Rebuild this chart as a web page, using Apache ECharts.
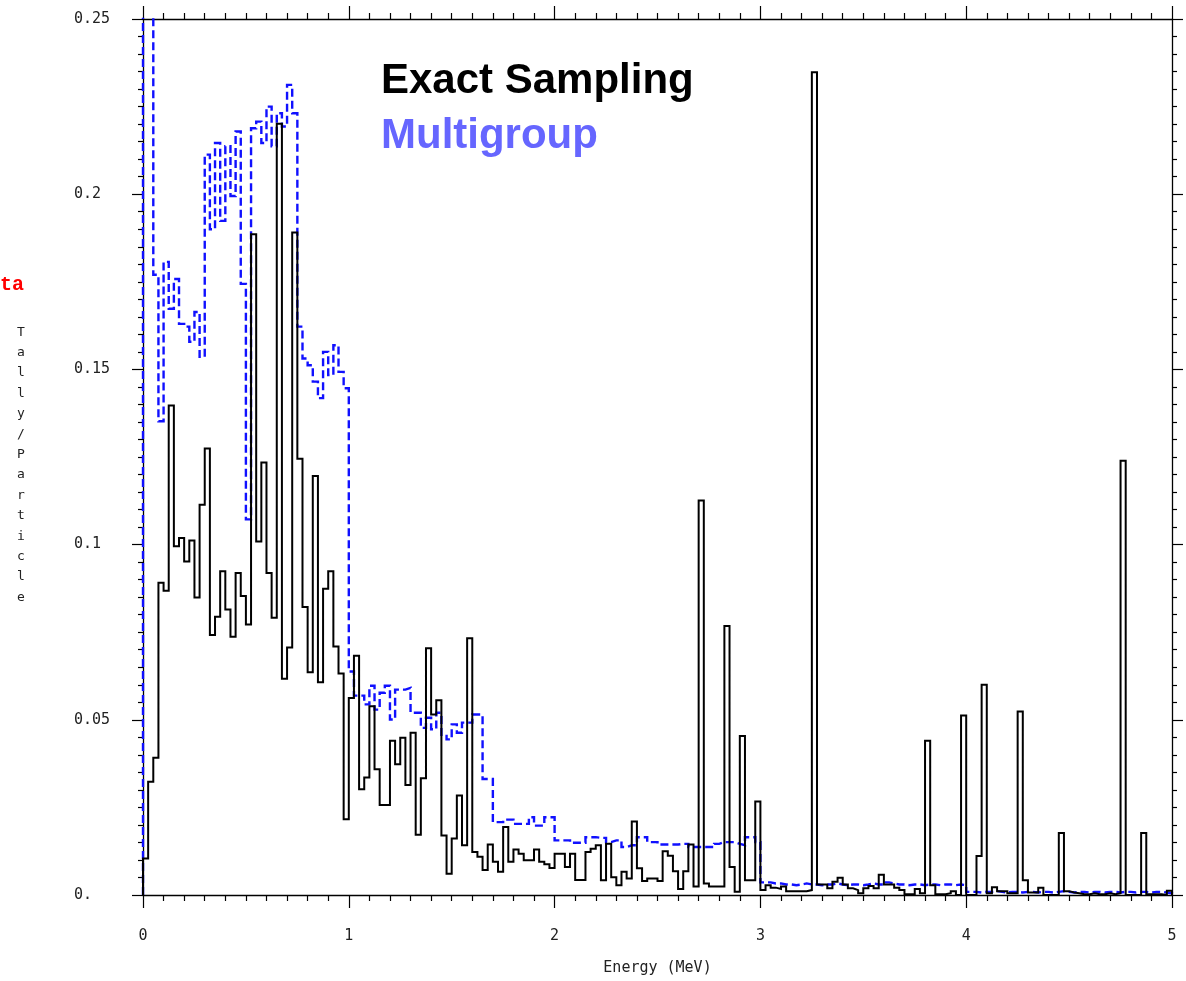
<!DOCTYPE html>
<html>
<head>
<meta charset="utf-8">
<script src="https://cdn.jsdelivr.net/npm/echarts@6/dist/echarts.min.js"></script>
<style>
html,body{margin:0;padding:0;background:#fff;}
#chart{width:1186px;height:981px;}
</style>
</head>
<body>
<div id="chart"></div>
<script>
// Energy bins: 200 bins of 0.025 MeV from 0 to 5 MeV
const binWidth = 0.025;
const xTickLabels = ['0', '1', '2', '3', '4', '5'];
const yTickLabels = ['0.', '0.05', '0.1', '0.15', '0.2', '0.25'];
const seriesNames = ['Exact Sampling', 'Multigroup'];

// Exact sampling tally per bin
const exactSampling = [
  0.0104,0.0323,0.0392,0.0891,0.0868,0.1397,0.0995,0.1019,0.0952,0.1012,
  0.0849,0.1114,0.1274,0.0742,0.0794,0.0924,0.0815,0.0737,0.0919,0.0853,
  0.0772,0.1886,0.1009,0.1234,0.0919,0.0791,0.2201,0.0617,0.0706,0.1891,
  0.1245,0.0822,0.0636,0.1196,0.0607,0.0874,0.0924,0.0709,0.0632,0.0216,
  0.0562,0.0683,0.0302,0.0335,0.0539,0.0359,0.0257,0.0257,0.0440,0.0373,
  0.0449,0.0314,0.0463,0.0172,0.0333,0.0704,0.0515,0.0556,0.0170,0.0061,
  0.0161,0.0284,0.0142,0.0733,0.0123,0.0109,0.0071,0.0144,0.0095,0.0066,
  0.0194,0.0095,0.0130,0.0118,0.0099,0.0099,0.0130,0.0095,0.0088,0.0077,
  0.0118,0.0118,0.0080,0.0118,0.0043,0.0043,0.0123,0.0132,0.0142,0.0042,
  0.0146,0.0051,0.0028,0.0066,0.0047,0.0210,0.0076,0.0040,0.0047,0.0047,
  0.0040,0.0125,0.0112,0.0068,0.0017,0.0068,0.0144,0.0024,0.1126,0.0033,
  0.0024,0.0024,0.0024,0.0768,0.0080,0.0009,0.0454,0.0042,0.0042,0.0267,
  0.0014,0.0028,0.0021,0.0017,0.0024,0.0011,0.0011,0.0011,0.0011,0.0014,
  0.2348,0.0030,0.0030,0.0019,0.0038,0.0049,0.0030,0.0019,0.0014,0.0005,
  0.0019,0.0026,0.0019,0.0058,0.0030,0.0030,0.0021,0.0014,0.0002,0.0002,
  0.0017,0.0005,0.0440,0.0028,0.0002,0.0002,0.0005,0.0011,0.0000,0.0512,
  0.0000,0.0000,0.0111,0.0600,0.0005,0.0022,0.0011,0.0011,0.0005,0.0005,
  0.0524,0.0042,0.0007,0.0007,0.0021,0.0000,0.0000,0.0000,0.0177,0.0011,
  0.0007,0.0005,0.0002,0.0002,0.0005,0.0002,0.0002,0.0005,0.0002,0.0005,
  0.1239,0.0000,0.0000,0.0000,0.0177,0.0002,0.0002,0.0002,0.0000,0.0012
];

// Multigroup tally per bin (first bins exceed the plotted range)
const multigroup = [
  0.3000,0.3000,0.1770,0.1352,0.1807,0.1673,0.1758,0.1630,0.1622,0.1579,
  0.1664,0.1536,0.2113,0.1900,0.2146,0.1924,0.2137,0.1995,0.2179,0.1744,
  0.1072,0.2188,0.2207,0.2146,0.2250,0.2137,0.2231,0.2193,0.2312,0.2231,
  0.1622,0.1531,0.1512,0.1465,0.1418,0.1550,0.1484,0.1569,0.1493,0.1446,
  0.0638,0.0569,0.0569,0.0544,0.0597,0.0529,0.0577,0.0597,0.0501,0.0586,
  0.0586,0.0591,0.0520,0.0520,0.0477,0.0506,0.0473,0.0520,0.0454,0.0444,
  0.0487,0.0463,0.0492,0.0492,0.0515,0.0515,0.0331,0.0331,0.0208,0.0208,
  0.0215,0.0215,0.0203,0.0203,0.0203,0.0222,0.0198,0.0198,0.0222,0.0222,
  0.0156,0.0156,0.0156,0.0149,0.0149,0.0149,0.0165,0.0165,0.0163,0.0163,
  0.0151,0.0156,0.0156,0.0137,0.0142,0.0142,0.0165,0.0165,0.0151,0.0151,
  0.0144,0.0144,0.0144,0.0144,0.0146,0.0146,0.0137,0.0137,0.0137,0.0137,
  0.0137,0.0146,0.0151,0.0151,0.0151,0.0146,0.0142,0.0165,0.0165,0.0151,
  0.0036,0.0036,0.0033,0.0033,0.0030,0.0030,0.0028,0.0030,0.0033,0.0030,
  0.0030,0.0028,0.0030,0.0030,0.0033,0.0030,0.0028,0.0030,0.0030,0.0028,
  0.0030,0.0033,0.0030,0.0030,0.0036,0.0033,0.0030,0.0030,0.0028,0.0030,
  0.0030,0.0028,0.0030,0.0030,0.0028,0.0030,0.0030,0.0028,0.0030,0.0028,
  0.0009,0.0009,0.0007,0.0009,0.0009,0.0011,0.0009,0.0007,0.0009,0.0009,
  0.0007,0.0009,0.0009,0.0007,0.0009,0.0009,0.0007,0.0009,0.0011,0.0009,
  0.0007,0.0009,0.0009,0.0007,0.0009,0.0009,0.0007,0.0009,0.0009,0.0007,
  0.0009,0.0009,0.0007,0.0009,0.0009,0.0007,0.0009,0.0009,0.0007,0.0005
];

function histPoints(vals) {
  const pts = [[0, 0]];
  for (let i = 0; i < vals.length; i++) pts.push([i * binWidth, vals[i]]);
  const xEnd = vals.length * binWidth;
  pts.push([xEnd, vals[vals.length - 1]]);
  pts.push([xEnd, 0]);
  return pts;
}

const chart = echarts.init(document.getElementById('chart'), null, {renderer: 'canvas'});
const monoFont = '"DejaVu Sans Mono", "Liberation Mono", monospace';

const xAxisBase = {
  type: 'value', min: 0, max: 5, interval: 1,
  axisLine: {show: true, onZero: false, lineStyle: {color: '#000', width: 1.3}},
  axisTick: {show: true, length: 13, lineStyle: {color: '#000', width: 1.2}},
  minorTick: {show: true, splitNumber: 10, length: 6, lineStyle: {color: '#000', width: 1.2}},
  splitLine: {show: false}, minorSplitLine: {show: false}
};
const yAxisBase = {
  type: 'value', min: 0, max: 0.25, interval: 0.05,
  axisLine: {show: true, onZero: false, lineStyle: {color: '#000', width: 1.3}},
  axisTick: {show: true, length: 11, lineStyle: {color: '#000', width: 1.2}},
  minorTick: {show: true, splitNumber: 10, length: 5, lineStyle: {color: '#000', width: 1.2}},
  splitLine: {show: false}, minorSplitLine: {show: false}
};

const yAxisLetters = 'Tally/Particle'.split('').join('\n');

chart.setOption({
  backgroundColor: '#fff',
  animation: false,
  grid: {left: 143, right: 14, top: 19, bottom: 81, containLabel: false},
  xAxis: [
    Object.assign({}, xAxisBase, {
      position: 'bottom',
      name: 'Energy (MeV)', nameLocation: 'middle', nameGap: 66,
      nameTextStyle: {fontFamily: monoFont, fontSize: 15, color: '#222'},
      axisLabel: {
        show: true, margin: 34, color: '#222', fontFamily: monoFont, fontSize: 15,
        formatter: function (v) { return xTickLabels[Math.round(v)]; }
      }
    }),
    Object.assign({}, xAxisBase, {position: 'top', axisLabel: {show: false}})
  ],
  yAxis: [
    Object.assign({}, yAxisBase, {
      position: 'left',
      axisLabel: {
        show: true, margin: 69, align: 'left', color: '#222', fontFamily: monoFont, fontSize: 15,
        formatter: function (v) { return yTickLabels[Math.round(v / 0.05)]; }
      }
    }),
    Object.assign({}, yAxisBase, {position: 'right', axisLabel: {show: false}})
  ],
  series: [
    {
      name: seriesNames[1], type: 'line', step: 'end', xAxisIndex: 0, yAxisIndex: 0,
      data: histPoints(multigroup), showSymbol: false, clip: true, z: 2,
      lineStyle: {color: '#1010ff', width: 2.4, type: [8, 4], join: 'miter'}
    },
    {
      name: seriesNames[0], type: 'line', step: 'end', xAxisIndex: 0, yAxisIndex: 0,
      data: histPoints(exactSampling), showSymbol: false, clip: true, z: 3,
      lineStyle: {color: '#000', width: 2, join: 'miter'}
    }
  ],
  graphic: [
    {type: 'text', left: 381, top: 60, z: 10,
     style: {text: seriesNames[0], font: 'bold 42px "Liberation Sans", Arial, sans-serif', fill: '#000'}},
    {type: 'text', left: 381, top: 115, z: 10,
     style: {text: seriesNames[1], font: 'bold 42px "Liberation Sans", Arial, sans-serif', fill: '#6666ff'}},
    {type: 'text', left: 0, top: 275, z: 10,
     style: {text: 'ta', font: 'bold 20px "Liberation Mono", "Courier New", monospace', fill: '#ff0000'}},
    {type: 'text', left: 17, top: 322, z: 10,
     style: {text: yAxisLetters, font: '13px ' + monoFont, fill: '#222', lineHeight: 20.4, align: 'center'}}
  ]
});
</script>
</body>
</html>
